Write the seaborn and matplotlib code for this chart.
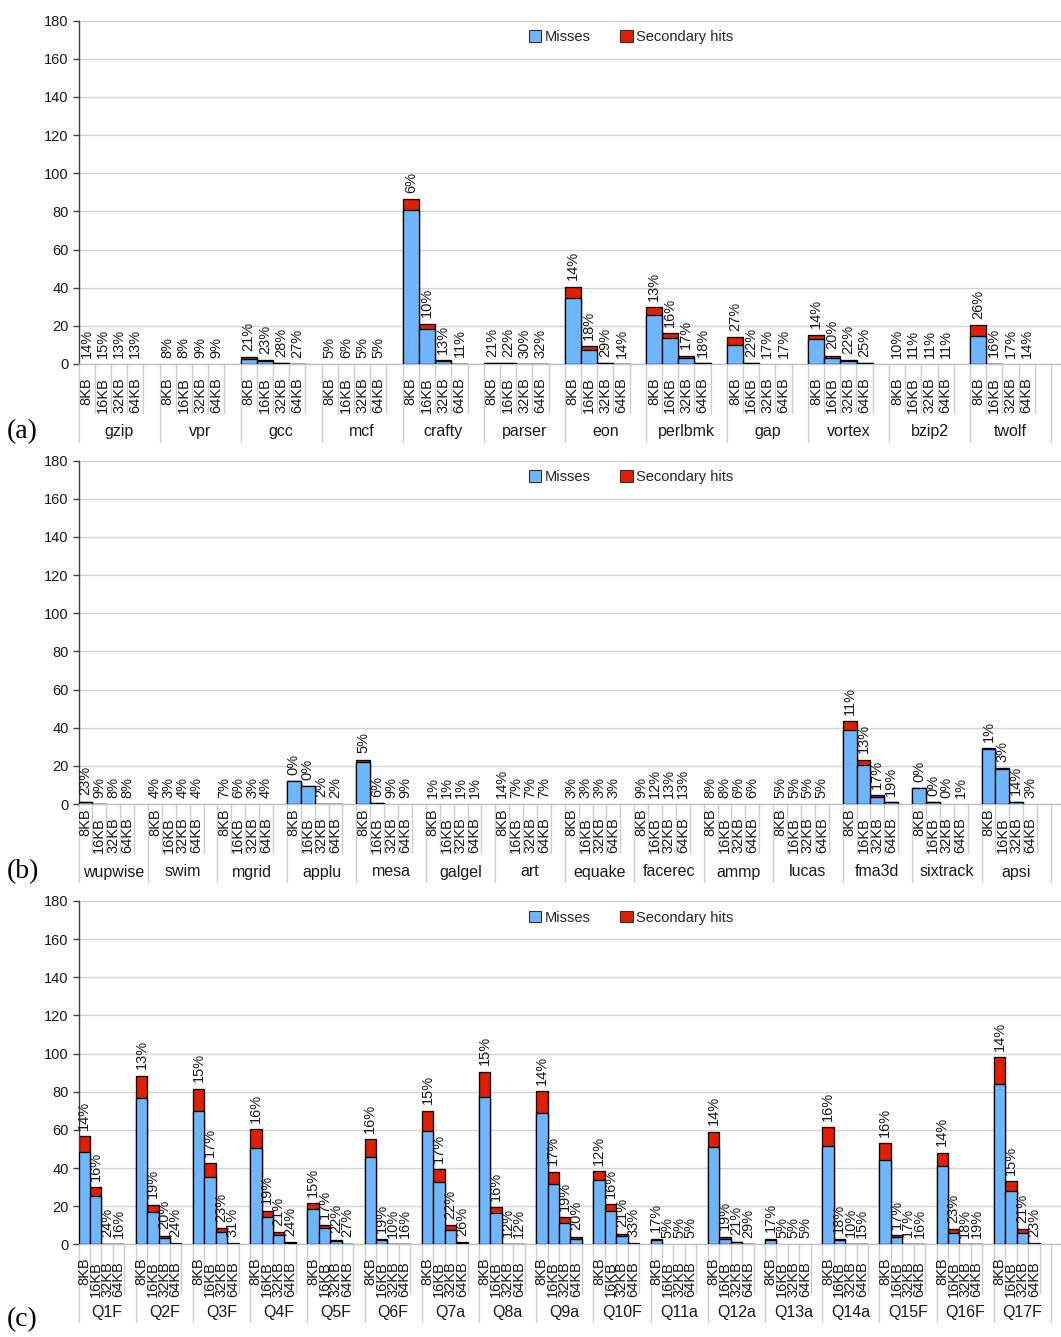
import matplotlib
matplotlib.use('Agg')
import matplotlib.pyplot as plt
import matplotlib.transforms as mtransforms
from matplotlib.patches import Patch
import seaborn as sns
import pandas as pd

sns.set_theme(style='white')
plt.rcParams['font.family'] = ['Liberation Sans', 'DejaVu Sans']

sizes = ['8KB', '16KB', '32KB', '64KB']

# ---------------- panel (a) ----------------
groups_a = ['gzip', 'vpr', 'gcc', 'mcf', 'crafty', 'parser', 'eon', 'perlbmk',
            'gap', 'vortex', 'bzip2', 'twolf']
misses_a = [[0, 0, 0, 0], [0, 0, 0, 0], [2.8, 1.6, 0.3, 0.1], [0, 0, 0, 0],
            [80.6, 18.5, 1.8, 0.2], [0.3, 0.3, 0.1, 0.05], [34.6, 7.3, 0.3, 0.1],
            [25.9, 13.6, 3.3, 0.4], [10.1, 0.3, 0, 0], [12.9, 3.3, 1.4, 0.4],
            [0, 0, 0, 0], [14.5, 0.2, 0, 0]]
secondary_a = [[0, 0, 0, 0], [0, 0, 0, 0], [0.7, 0.5, 0.1, 0], [0, 0, 0, 0],
               [5.8, 2.7, 0.3, 0], [0.1, 0.1, 0, 0], [6.0, 2.0, 0.1, 0],
               [3.8, 2.7, 1.1, 0.1], [3.9, 0.1, 0, 0], [2.5, 1.1, 0.5, 0.1],
               [0, 0, 0, 0], [6.0, 0, 0, 0]]
pct_a = [[14, 15, 13, 13], [8, 8, 9, 9], [21, 23, 28, 27], [5, 6, 5, 5],
         [6, 10, 13, 11], [21, 22, 30, 32], [14, 18, 29, 14], [13, 16, 17, 18],
         [27, 22, 17, 17], [14, 20, 22, 25], [10, 11, 11, 11], [26, 16, 17, 14]]

# ---------------- panel (b) ----------------
groups_b = ['wupwise', 'swim', 'mgrid', 'applu', 'mesa', 'galgel', 'art', 'equake',
            'facerec', 'ammp', 'lucas', 'fma3d', 'sixtrack', 'apsi']
misses_b = [[0.9, 0.1, 0, 0], [0, 0, 0, 0], [0, 0, 0, 0], [11.8, 9.2, 0.2, 0.1],
            [22.1, 0.3, 0, 0], [0, 0, 0, 0], [0, 0, 0, 0], [0, 0, 0, 0],
            [0, 0, 0, 0], [0, 0, 0, 0], [0, 0, 0, 0], [38.6, 20.2, 3.8, 0.8],
            [8.5, 1.0, 0, 0], [28.8, 18.3, 1.1, 0]]
secondary_b = [[0.3, 0, 0, 0], [0, 0, 0, 0], [0, 0, 0, 0], [0, 0, 0, 0],
               [1.2, 0, 0, 0], [0, 0, 0, 0], [0, 0, 0, 0], [0, 0, 0, 0],
               [0, 0, 0, 0], [0, 0, 0, 0], [0, 0, 0, 0], [4.9, 3.1, 0.7, 0.1],
               [0, 0, 0, 0], [0.3, 0.5, 0.1, 0]]
pct_b = [[23, 9, 8, 8], [4, 3, 4, 4], [7, 6, 3, 4], [0, 0, 2, 2], [5, 6, 9, 9],
         [1, 1, 1, 1], [14, 7, 7, 7], [3, 3, 3, 3], [9, 12, 13, 13], [8, 8, 6, 6],
         [5, 5, 5, 5], [11, 13, 17, 19], [0, 0, 0, 1], [1, 3, 14, 3]]

# ---------------- panel (c) ----------------
groups_c = ['Q1F', 'Q2F', 'Q3F', 'Q4F', 'Q5F', 'Q6F', 'Q7a', 'Q8a', 'Q9a', 'Q10F',
            'Q11a', 'Q12a', 'Q13a', 'Q14a', 'Q15F', 'Q16F', 'Q17F']
misses_c = [[48.4, 25.3, 0.3, 0.1], [76.6, 17.0, 3.5, 0.4], [69.9, 35.1, 6.3, 0.4],
            [50.7, 14.2, 4.7, 0.8], [18.4, 8.4, 1.7, 0.2], [46.0, 2.2, 0.2, 0.1],
            [59.3, 32.5, 7.5, 0.8], [77.1, 16.3, 0.3, 0.1], [68.7, 31.6, 11.4, 3.0],
            [33.6, 17.5, 4.4, 0.4], [2.5, 0, 0, 0], [50.9, 3.0, 1.1, 0.2],
            [2.5, 0, 0, 0], [51.7, 2.1, 0.3, 0.1], [44.1, 3.7, 0.3, 0.1],
            [41.3, 6.1, 0.2, 0.1], [83.9, 28.0, 5.8, 0.4]]
secondary_c = [[8.2, 4.8, 0.1, 0], [11.9, 3.8, 1.0, 0.1], [11.7, 7.4, 2.3, 0.2],
               [9.6, 3.5, 1.6, 0.2], [3.1, 1.6, 0.7, 0.1], [9.1, 0.4, 0, 0],
               [10.8, 6.8, 2.5, 0.2], [13.5, 3.1, 0, 0], [11.7, 6.5, 2.8, 1.0],
               [4.9, 3.5, 1.2, 0.1], [0.5, 0, 0, 0], [8.2, 1.0, 0.3, 0],
               [0.5, 0, 0, 0], [9.8, 0.5, 0, 0], [8.9, 1.0, 0, 0],
               [6.8, 1.8, 0, 0], [14.2, 5.2, 2.1, 0.1]]
pct_c = [[14, 16, 24, 16], [13, 19, 20, 24], [15, 17, 23, 31], [16, 19, 21, 24],
         [15, 17, 22, 27], [16, 19, 10, 16], [15, 17, 22, 26], [15, 16, 12, 12],
         [14, 17, 19, 20], [12, 16, 21, 33], [17, 5, 5, 5], [14, 19, 21, 29],
         [17, 5, 5, 5], [16, 18, 10, 15], [16, 17, 17, 16], [14, 23, 18, 19],
         [14, 15, 21, 23]]

BLUE = '#6EB6FF'
RED = '#E01E00'
GRID = '#d4d4d4'
SEP = '#cdcdcd'
TXT = '#1a1a1a'
FS = 10.5

W, H = 1061, 1337
fig = plt.figure(figsize=(W / 100, H / 100), dpi=100)
fig.patch.set_facecolor('white')

LEFT_PX = 78.5
END_PX = 1051.0          # right end of the last category group
AX_H_PX = 343.3
PX = 72 / 100            # points per pixel


def draw_panel(zero_px, groups, misses, secondary, pct, letter, letter_y_px,
               size_label_gap_px):
    ax = fig.add_axes([LEFT_PX / W, (H - zero_px) / H,
                       (W - LEFT_PX) / W, AX_H_PX / H])
    rows, order = [], []
    for g, m, s, p in zip(groups, misses, secondary, pct):
        for sz, mv, sv, pv in zip(sizes, m, s, p):
            key = f'{g}|{sz}'
            rows.append(dict(slot=key, size=sz, misses=mv, total=mv + sv, pct=pv))
            order.append(key)
        order.append(f'{g}|gap')
    df = pd.DataFrame(rows)

    sns.barplot(data=df, x='slot', y='total', order=order, color=RED,
                saturation=1, width=1.0, edgecolor='black', linewidth=0.95,
                errorbar=None, ax=ax, zorder=2)
    sns.barplot(data=df, x='slot', y='misses', order=order, color=BLUE,
                saturation=1, width=1.0, edgecolor='black', linewidth=0.95,
                errorbar=None, ax=ax, zorder=3)
    for p in ax.patches:
        if p.get_height() <= 0:
            p.set_linewidth(0)

    n = len(order)
    ax.set_xlim(-0.5, -0.5 + n * (W - LEFT_PX) / (END_PX - LEFT_PX))
    ax.set_ylim(0, 180)
    ax.set_yticks(range(0, 181, 20))
    ax.set_xticks([])
    ax.set_xlabel('')
    ax.set_ylabel('')
    ax.yaxis.grid(True, color=GRID, linewidth=1)
    ax.set_axisbelow(True)
    for sp in ['top', 'right']:
        ax.spines[sp].set_visible(False)
    ax.spines['left'].set_color('#404040')
    ax.spines['left'].set_linewidth(1.0)
    ax.spines['bottom'].set_color('#c0c0c0')
    ax.spines['bottom'].set_linewidth(1.0)
    ax.tick_params(axis='y', left=True, length=4, width=1, color='#404040',
                   labelsize=FS, pad=3, labelcolor=TXT)

    # size labels under the bars, percentage labels on top of bars
    for _, r in df.iterrows():
        xi = order.index(r['slot'])
        gap = size_label_gap_px[sizes.index(r['size'])]
        ax.annotate(r['size'], xy=(xi, 0), xytext=(0, -gap * PX),
                    textcoords='offset points', rotation=90, ha='center',
                    va='top', fontsize=FS, color=TXT, annotation_clip=False)
        ax.annotate(f"{r['pct']}%", xy=(xi, r['total']),
                    xytext=(0, 4.5), textcoords='offset points', rotation=90,
                    ha='center', va='bottom', fontsize=FS, color=TXT,
                    zorder=4)

    trans = mtransforms.blended_transform_factory(ax.transData, ax.transAxes)
    short_len = 49 / AX_H_PX
    long_len = 78 / AX_H_PX
    for k in range(n + 1):
        x = k - 0.5
        L = long_len if k % 5 == 0 else short_len
        ax.plot([x, x], [0, -L], transform=trans, color=SEP, lw=1,
                clip_on=False, zorder=1)
    for j, g in enumerate(groups):
        ax.text(5 * j + 2, -68 / AX_H_PX, g, transform=trans, ha='center',
                va='center', fontsize=11.5, color=TXT)

    handles = [Patch(facecolor=BLUE, edgecolor='#303030', linewidth=0.8, label='Misses'),
               Patch(facecolor=RED, edgecolor='#303030', linewidth=0.8, label='Secondary hits')]
    ax.legend(handles=handles, loc='center', bbox_to_anchor=(0.5623, 0.9516),
              ncol=2, frameon=False, fontsize=FS, handlelength=0.87,
              handleheight=0.87, handletextpad=0.23, columnspacing=2.0,
              borderpad=0, borderaxespad=0)

    fig.text(7 / W, 1 - letter_y_px / H, letter, family='Liberation Serif',
             fontsize=20, ha='left', va='center', color='black')
    return ax


draw_panel(364.0, groups_a, misses_a, secondary_a, pct_a, '(a)', 432,
           [13, 13, 13, 13])
draw_panel(804.0, groups_b, misses_b, secondary_b, pct_b, '(b)', 872,
           [4, 13, 13, 13])
draw_panel(1244.3, groups_c, misses_c, secondary_c, pct_c, '(c)', 1320,
           [13, 17, 17, 17])

fig.savefig('out.png', dpi=100, facecolor='white')
